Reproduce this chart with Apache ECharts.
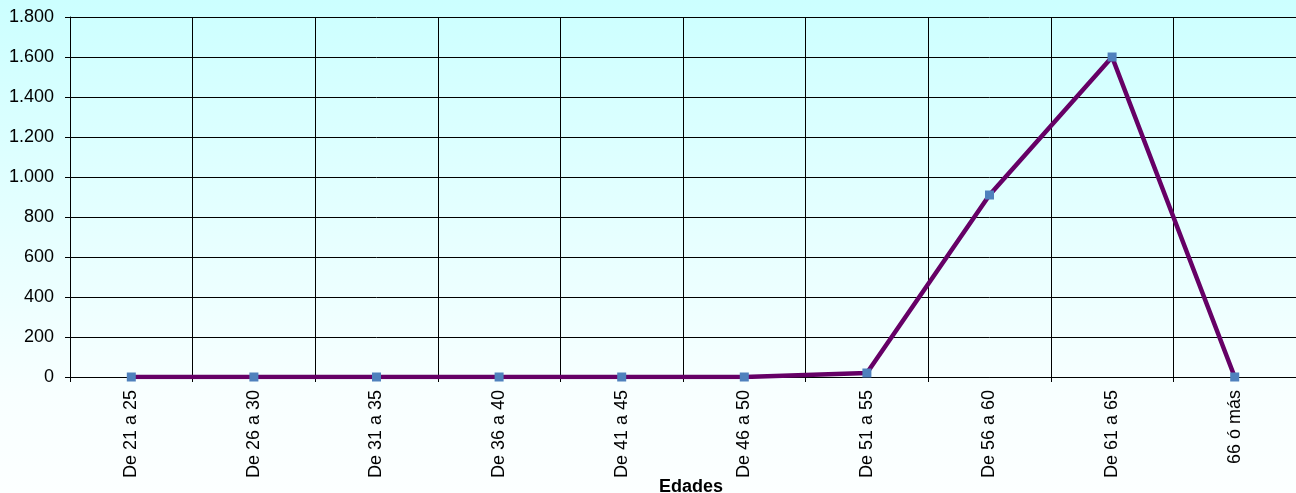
<!DOCTYPE html>
<html>
<head>
<meta charset="utf-8">
<script src="https://cdn.jsdelivr.net/npm/echarts@6/dist/echarts.min.js"></script>
<style>
html,body{margin:0;padding:0;}
#chart{width:1296px;height:493px;}
</style>
</head>
<body>
<div id="chart"></div>
<script>
const categories = ['De 21 a 25','De 26 a 30','De 31 a 35','De 36 a 40','De 41 a 45','De 46 a 50','De 51 a 55','De 56 a 60','De 61 a 65','66 ó más'];
const values = [0, 0, 0, 0, 0, 0, 20, 910, 1600, 0];
const xAxisTitle = 'Edades';

const chart = echarts.init(document.getElementById('chart'), null, {renderer:'canvas'});
const font = 'Liberation Sans, Arial, sans-serif';
chart.setOption({
  animation: false,
  backgroundColor: {
    type: 'linear', x: 0, y: 0, x2: 0, y2: 1,
    colorStops: [
      {offset: 0, color: '#CCFFFF'},
      {offset: 0.8, color: '#F8FFFF'},
      {offset: 1, color: '#FCFFFF'}
    ]
  },
  grid: {left: 70, right: 0, top: 17, bottom: 116, containLabel: false, outerBoundsMode: 'none'},
  xAxis: {
    type: 'category',
    data: categories,
    boundaryGap: true,
    name: xAxisTitle,
    nameLocation: 'middle',
    nameGap: 101,
    nameMoveOverlap: false,
    nameTextStyle: {fontFamily: font, fontSize: 18, fontWeight: 'bold', color: '#000', padding: [0, 0, 0, 16]},
    axisLine: {lineStyle: {color: '#000', width: 1}},
    axisTick: {show: true, length: 5, lineStyle: {color: '#000'}},
    axisLabel: {rotate: 90, margin: 13, fontFamily: font, fontSize: 18, color: '#000', interval: 0},
    splitLine: {show: true, lineStyle: {color: '#000', width: 1}}
  },
  yAxis: {
    type: 'value',
    min: 0, max: 1800, interval: 200,
    axisLine: {show: true, lineStyle: {color: '#000', width: 1}},
    axisTick: {show: true, length: 5, lineStyle: {color: '#000'}},
    axisLabel: {
      margin: 16, fontFamily: font, fontSize: 18, color: '#000',
      formatter: v => v >= 1000 ? Math.floor(v/1000) + '.' + String(v%1000).padStart(3,'0') : String(v)
    },
    splitLine: {show: true, lineStyle: {color: '#000', width: 1}}
  },
  series: [{
    type: 'line',
    data: values,
    lineStyle: {color: '#660066', width: 4.5},
    itemStyle: {color: '#4F81BD'},
    symbol: 'rect',
    symbolSize: 9,
    showAllSymbol: true
  }]
});
</script>
</body>
</html>
